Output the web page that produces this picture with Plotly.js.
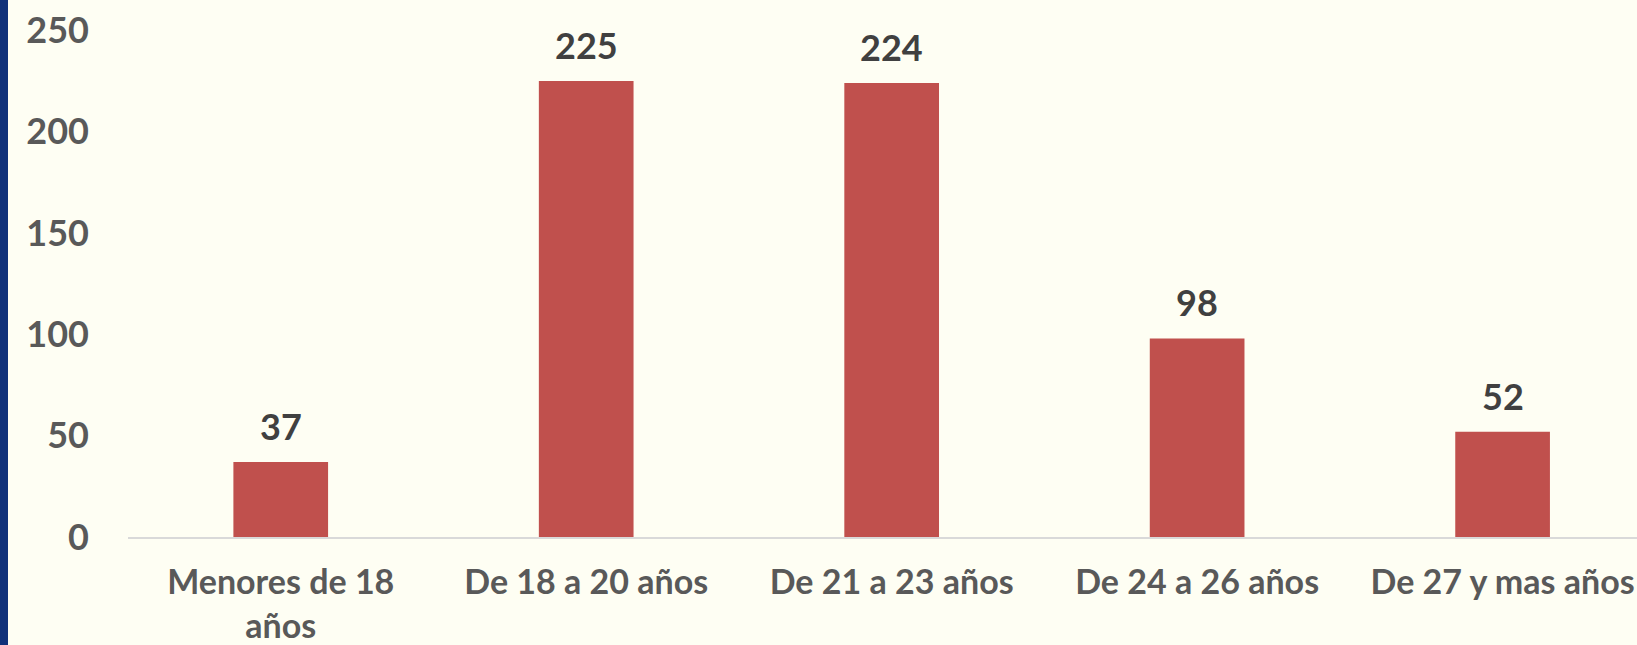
<!DOCTYPE html>
<html>
<head>
<meta charset="utf-8">
<script src="https://cdn.plot.ly/plotly-3.0.1.min.js"></script>
<style>
  html, body { margin: 0; padding: 0; background: #FEFEF3; width: 1637px; height: 645px; overflow: hidden; }
  #strip { position: absolute; left: 0; top: 0; width: 8px; height: 645px; background: #10317A; z-index: 10; }
  #chart { position: absolute; left: 0; top: 0; width: 1637px; height: 645px; }
</style>
</head>
<body>
<div id="strip"></div>
<div id="chart"></div>
<script>
const categories = ["Menores de 18<br>años", "De 18 a 20 años", "De 21 a 23 años", "De 24 a 26 años", "De 27 y mas años"];
const values = [37, 225, 224, 98, 52];
const yTicks = [0, 50, 100, 150, 200, 250];

const font = "Lato, 'Open Sans', sans-serif";

const trace = {
  type: "bar",
  x: categories,
  y: values,
  marker: { color: "#C0504D", line: { width: 0 } },
  hoverinfo: "none"
};

const annotations = categories.map((c, i) => ({
  x: c, y: values[i], xref: "x", yref: "y",
  text: String(values[i]),
  showarrow: false,
  yanchor: "bottom",
  yshift: 12,
  font: { family: font, size: 36, color: "#404040", weight: 700 }
}));

const layout = {
  width: 1637, height: 645,
  margin: { l: 128, r: 0, t: 0, b: 108 },
  paper_bgcolor: "#FEFEF3",
  plot_bgcolor: "#FEFEF3",
  bargap: 0.69,
  showlegend: false,
  xaxis: {
    type: "category",
    range: [-0.5, 4.44],
    showgrid: false,
    showline: true, linecolor: "#D9D9D9", linewidth: 2,
    ticks: "",
    ticklabelstandoff: 14,
    tickfont: { family: font, size: 34, color: "#595959", weight: 700 },
    zeroline: false
  },
  yaxis: {
    range: [0, 265],
    tickvals: yTicks,
    ticktext: yTicks.map(String),
    showgrid: false,
    zeroline: false,
    showline: false,
    ticks: "",
    ticklabelstandoff: 38,
    tickfont: { family: font, size: 36, color: "#595959", weight: 700 }
  },
  annotations: annotations
};

Plotly.newPlot("chart", [trace], layout, { staticPlot: true, displayModeBar: false });
</script>
</body>
</html>
